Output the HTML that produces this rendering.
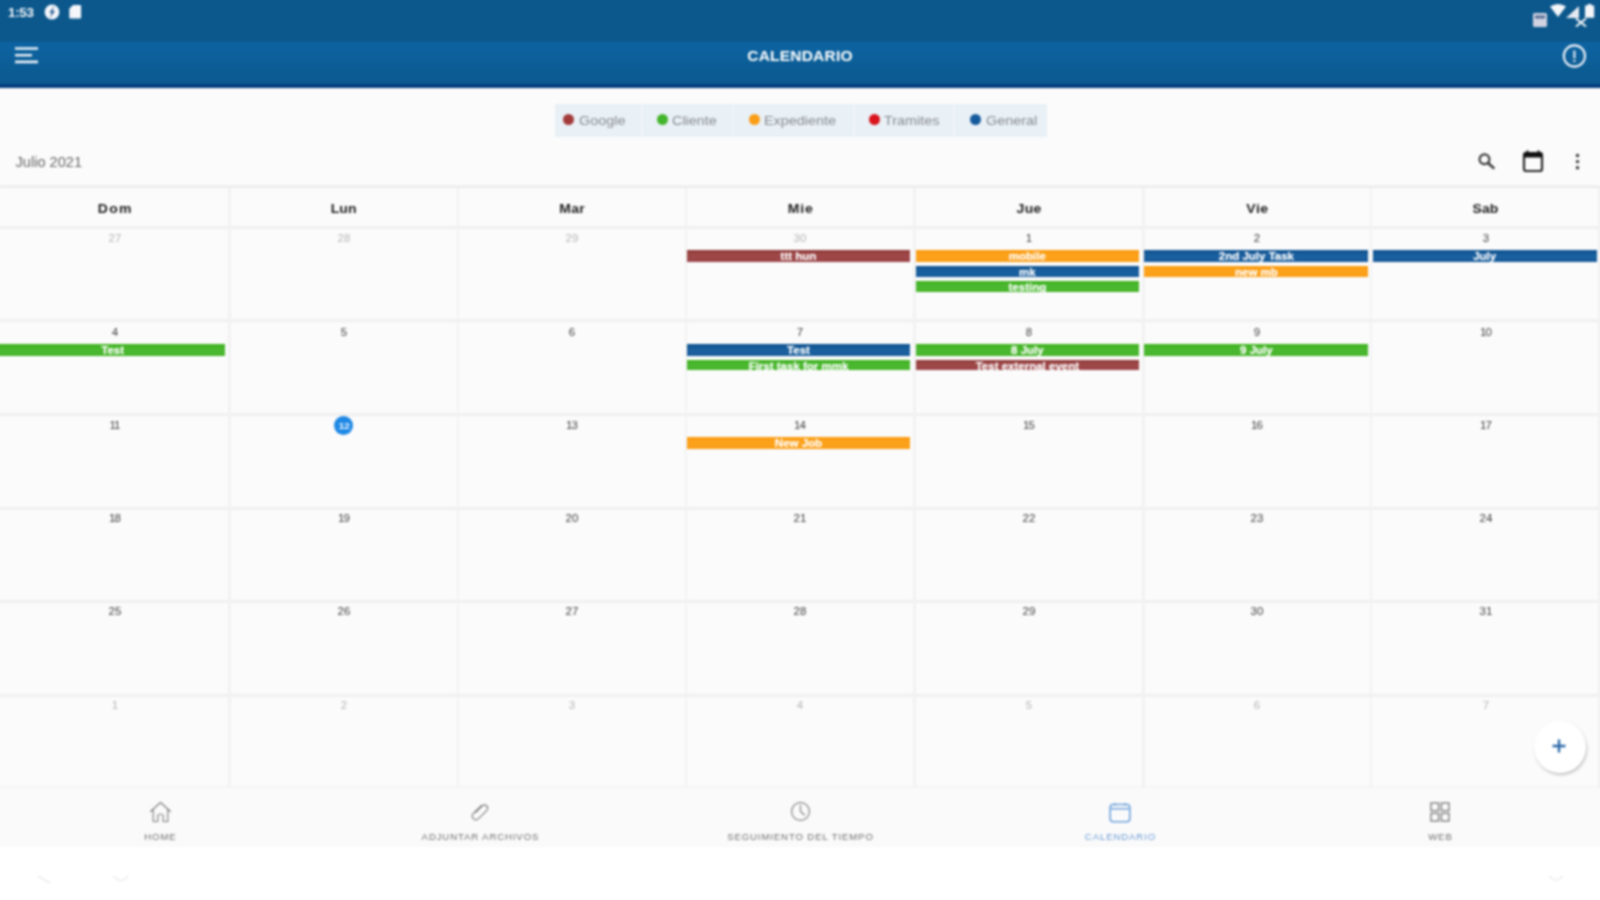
<!DOCTYPE html>
<html>
<head>
<meta charset="utf-8">
<title>Calendario</title>
<style>
*{box-sizing:border-box;margin:0;padding:0}
html,body{width:1600px;height:900px;overflow:hidden;background:#ffffff;font-family:"Liberation Sans",sans-serif;}
#app{position:absolute;left:-20px;top:-20px;width:1640px;height:940px;overflow:hidden;background:#ffffff;filter:blur(1.2px)}
#in{position:absolute;left:20px;top:20px;width:1600px;height:900px}
.abs{position:absolute}
#status{left:-20px;top:-20px;width:1640px;height:62px;background:#0c588c;}
#header{left:-20px;top:41px;width:1640px;height:47px;background:linear-gradient(to bottom,#0c588c 0,#0c588c .7px,#0c63a1 .7px,#0c619d 12px,#0c5c94 30px,#0c5a90 43px)}
#hshadow{left:-20px;top:83px;width:1640px;height:5px;background:linear-gradient(to bottom,#0c5a90 0,#0c5a90 .6px,#043f7f .6px,#043f7f 4.5px,#fdfdff 4.5px)}
#title{left:0;top:45.6px;width:1600px;height:20px;line-height:20px;text-align:center;color:#fff;font-weight:bold;font-size:15.5px;letter-spacing:.2px}
#main{left:-20px;top:87px;width:1640px;height:760.3px;background:#fbfbfb;}
#legend{left:554.5px;top:103.6px;width:492px;height:33.4px;background:#e9f0f6;}
.lg{position:absolute;top:110px;height:20px;line-height:20px;font-size:14.4px;color:#868a8f;white-space:nowrap;transform:scaleY(.92);transform-origin:0 55%}
.dot{position:absolute;top:114px;width:11px;height:11px;border-radius:50%}
#month{left:15.5px;top:152px;font-size:14.6px;line-height:20px;color:#666;white-space:nowrap}
.hl{position:absolute;left:-20px;width:1640px;height:3px;background:#f0f0f0}
.vl{position:absolute;top:187.5px;width:2.6px;height:600px;background:#f2f2f2}
.dh{position:absolute;top:199px;height:20px;line-height:20px;text-align:center;font-weight:bold;font-size:14px;color:#1c1c1c;transform:scaleY(.86);transform-origin:50% 50%}
.dn{position:absolute;height:14px;line-height:14px;text-align:center;font-size:10.2px;color:#3c3c3c;transform:scaleX(1.13)}
.dn.o{color:#b5b5b5}
.ev{position:absolute;height:11.3px;line-height:13.2px;overflow:visible;text-align:center;color:#fff;font-weight:bold;font-size:11.5px;white-space:nowrap}
.c-g{background:linear-gradient(#8f3a3a,#9e4848 40%,#9c4549)}.c-c{background:linear-gradient(#3fb31e,#4cb832 50%,#46b62b)}.c-e{background:linear-gradient(#fb9c10,#fca21c 50%,#fb9e17)}.c-t{background:#d9141c}.c-n{background:linear-gradient(#0e528f,#1c619f 50%,#175b9b)}
#nav{left:-20px;top:788px;width:1640px;height:59.3px;background:#fafafa}
.nl{position:absolute;top:830.5px;width:320px;height:12px;line-height:12px;text-align:center;font-size:9.6px;letter-spacing:.88px;padding-left:.9px;color:#707070;white-space:nowrap}
#today{left:333.5px;top:415.5px;width:19.5px;height:19.5px;border-radius:50%;background:#1e88e5}
#fab{left:1534px;top:721px;width:52px;height:52px;border-radius:50%;background:#fff;box-shadow:1px 2px 3px rgba(0,0,0,.22)}
svg{position:absolute;overflow:visible}
.dn,.dh,.lg,.nl,#month,#title{filter:blur(.55px)}
.ev{text-shadow:0 0 1px rgba(255,255,255,.55)}
</style>
</head>
<body>
<div id="app"><div id="in">
<div id="main" class="abs"></div>
<div id="status" class="abs"></div>
<div id="header" class="abs"></div>
<div id="hshadow" class="abs"></div>
<div id="title" class="abs">CALENDARIO</div>
<div class="abs" style="left:8px;top:4.6px;font-size:13.4px;line-height:16px;color:#f4f7fb;font-weight:bold;letter-spacing:-.3px">1:53</div>
<svg style="left:44px;top:3.6px" width="16" height="16" viewBox="0 0 16 16"><circle cx="8" cy="8" r="7.4" fill="#f4f6fa"/><path d="M10.3 2 L5.3 8.8 L7.7 8.8 L5.9 14 L11 6.9 L8.6 6.9 Z" fill="#2a5d90"/></svg>
<svg style="left:69px;top:4.8px" width="12.4" height="13.6" viewBox="0 0 13 15"><path d="M4 0 H11.5 Q13 0 13 1.5 V13.5 Q13 15 11.5 15 H1.5 Q0 15 0 13.5 V4 Z" fill="#f4f6fa"/></svg>
<svg style="left:1533px;top:13px" width="14" height="14" viewBox="0 0 14 14"><rect x="0" y="0" width="14" height="14" rx="1.5" fill="#cfd3e2"/><rect x="2" y="2.5" width="10" height="3" fill="#5a6f95"/></svg>
<svg style="left:1550px;top:4px" width="16" height="13" viewBox="0 0 16 13"><path d="M0 2.5 Q8 -2.5 16 2.5 L8 13 Z" fill="#f4f6fa"/></svg>
<svg style="left:1566px;top:6px" width="13" height="12" viewBox="0 0 13 12"><path d="M13 0 V12 H0 Z" fill="#e6eaf2"/></svg>
<svg style="left:1575px;top:18px" width="12" height="9" viewBox="0 0 12 9"><path d="M1 0.5 L11 8.5 M11 0.5 L1 8.5" stroke="#f4f6fa" stroke-width="2" fill="none"/></svg>
<svg style="left:1585.3px;top:4px" width="9.2" height="13.8" viewBox="0 0 10 15"><path d="M3 0 H7 V1.6 H10 V15 H0 V1.6 H3 Z" fill="#f4f6fa"/></svg>
<svg style="left:15px;top:46.4px" width="24" height="19" viewBox="0 0 24 19"><rect x="0" y="1.3" width="23" height="2.4" fill="#f0f4fa"/><rect x="0" y="8" width="17" height="2.4" fill="#f0f4fa"/><rect x="0" y="14.6" width="23" height="2.6" fill="#f0f4fa"/></svg>
<svg style="left:1562px;top:44px" width="24" height="24" viewBox="0 0 24 24"><circle cx="12.4" cy="12" r="10.6" fill="none" stroke="#eef2f8" stroke-width="2.1"/><rect x="11.4" y="6.5" width="2" height="8" fill="#eef2f8"/><rect x="11.4" y="16" width="2" height="2" fill="#eef2f8"/></svg>
<div id="legend" class="abs"></div>
<div class="dot" style="left:563.4px;background:#a33a3a"></div><div class="lg" style="left:579px">Google</div>
<div class="dot" style="left:656.5px;background:#43b52c"></div><div class="lg" style="left:672px">Cliente</div>
<div class="dot" style="left:748.5px;background:#fb9e17"></div><div class="lg" style="left:764px">Expediente</div>
<div class="dot" style="left:868.5px;background:#d9141c"></div><div class="lg" style="left:884px">Tramites</div>
<div class="dot" style="left:970px;background:#155a9c"></div><div class="lg" style="left:986px">General</div>
<div class="abs" style="left:641.4px;top:103.6px;width:2px;height:33.4px;background:#eff4f9"></div>
<div class="abs" style="left:732.4px;top:103.6px;width:2px;height:33.4px;background:#eff4f9"></div>
<div class="abs" style="left:852.6px;top:103.6px;width:2px;height:33.4px;background:#eff4f9"></div>
<div class="abs" style="left:953.4px;top:103.6px;width:2px;height:33.4px;background:#eff4f9"></div>
<div id="month" class="abs">Julio 2021</div>
<svg style="left:1478px;top:153px" width="18" height="17" viewBox="0 0 18 17"><circle cx="6.5" cy="6.3" r="4.9" fill="none" stroke="#3a3a3a" stroke-width="2.2"/><path d="M10 10 L16.3 15.6" stroke="#3a3a3a" stroke-width="2.6" fill="none"/></svg>
<svg style="left:1522px;top:150px" width="22" height="22" viewBox="0 0 22 22"><rect x="2" y="3" width="18" height="18" rx="2" fill="none" stroke="#262626" stroke-width="2.2"/><rect x="2" y="2.5" width="18" height="5" fill="#111"/><rect x="4.5" y="0.5" width="2" height="4" fill="#111"/><rect x="15.5" y="0.5" width="2" height="4" fill="#111"/></svg>
<svg style="left:1575px;top:153px" width="5" height="17" viewBox="0 0 5 17"><circle cx="2.5" cy="2.5" r="1.7" fill="#333"/><circle cx="2.5" cy="8.6" r="1.7" fill="#333"/><circle cx="2.5" cy="14.7" r="1.7" fill="#333"/></svg>
<div class="hl" style="top:186.3px;height:2px;background:#ececec"></div>
<div class="abs" style="left:0;top:183px;width:1600px;height:4px;background:linear-gradient(to bottom,rgba(0,0,0,0),rgba(0,0,0,.025))"></div>
<div class="hl" style="top:225.8px"></div>
<div class="hl" style="top:319.0px"></div>
<div class="hl" style="top:412.7px"></div>
<div class="hl" style="top:506.5px"></div>
<div class="hl" style="top:600.4px"></div>
<div class="hl" style="top:694.0px"></div>
<div class="hl" style="top:785.7px;background:#f4f4f4"></div>
<div class="vl" style="left:228.0px"></div>
<div class="vl" style="left:456.6px"></div>
<div class="vl" style="left:684.7px"></div>
<div class="vl" style="left:913.2px"></div>
<div class="vl" style="left:1142.1px"></div>
<div class="vl" style="left:1369.7px"></div>
<div class="vl" style="left:1598.3px"></div>
<div class="dh" style="left:75.3px;width:80px;letter-spacing:1.3px">Dom</div>
<div class="dh" style="left:303.7px;width:80px;letter-spacing:0.1px">Lun</div>
<div class="dh" style="left:532.2px;width:80px;letter-spacing:0.4px">Mar</div>
<div class="dh" style="left:760.7px;width:80px;letter-spacing:0.9px">Mie</div>
<div class="dh" style="left:989.1px;width:80px;letter-spacing:0.3px">Jue</div>
<div class="dh" style="left:1217.5px;width:80px;letter-spacing:0.5px">Vie</div>
<div class="dh" style="left:1445.5px;width:80px;letter-spacing:0.1px">Sab</div>
<div id="today" class="abs"></div>
<div class="dn o" style="left:74.7px;width:80px;top:232.3px">27</div>
<div class="dn o" style="left:303.6px;width:80px;top:232.3px">28</div>
<div class="dn o" style="left:532.0px;width:80px;top:232.3px">29</div>
<div class="dn o" style="left:760.2px;width:80px;top:232.3px">30</div>
<div class="dn" style="left:989.0px;width:80px;top:232.3px">1</div>
<div class="dn" style="left:1217.2px;width:80px;top:232.3px">2</div>
<div class="dn" style="left:1445.5px;width:80px;top:232.3px">3</div>
<div class="dn" style="left:74.7px;width:80px;top:325.6px">4</div>
<div class="dn" style="left:303.6px;width:80px;top:325.6px">5</div>
<div class="dn" style="left:532.0px;width:80px;top:325.6px">6</div>
<div class="dn" style="left:760.2px;width:80px;top:325.6px">7</div>
<div class="dn" style="left:989.0px;width:80px;top:325.6px">8</div>
<div class="dn" style="left:1217.2px;width:80px;top:325.6px">9</div>
<div class="dn" style="left:1445.5px;width:80px;top:325.6px;letter-spacing:-.9px;padding-right:.9px">10</div>
<div class="dn" style="left:74.7px;width:80px;top:418.9px;letter-spacing:-.9px;padding-right:.9px">11</div>
<div class="dn" style="left:303.6px;width:80px;top:418.9px;color:#e4f0fc;font-size:9.4px;font-weight:bold;letter-spacing:-.3px">12</div>
<div class="dn" style="left:532.0px;width:80px;top:418.9px;letter-spacing:-.9px;padding-right:.9px">13</div>
<div class="dn" style="left:760.2px;width:80px;top:418.9px;letter-spacing:-.9px;padding-right:.9px">14</div>
<div class="dn" style="left:989.0px;width:80px;top:418.9px;letter-spacing:-.9px;padding-right:.9px">15</div>
<div class="dn" style="left:1217.2px;width:80px;top:418.9px;letter-spacing:-.9px;padding-right:.9px">16</div>
<div class="dn" style="left:1445.5px;width:80px;top:418.9px;letter-spacing:-.9px;padding-right:.9px">17</div>
<div class="dn" style="left:74.7px;width:80px;top:512.1px;letter-spacing:-.9px;padding-right:.9px">18</div>
<div class="dn" style="left:303.6px;width:80px;top:512.1px;letter-spacing:-.9px;padding-right:.9px">19</div>
<div class="dn" style="left:532.0px;width:80px;top:512.1px">20</div>
<div class="dn" style="left:760.2px;width:80px;top:512.1px">21</div>
<div class="dn" style="left:989.0px;width:80px;top:512.1px">22</div>
<div class="dn" style="left:1217.2px;width:80px;top:512.1px">23</div>
<div class="dn" style="left:1445.5px;width:80px;top:512.1px">24</div>
<div class="dn" style="left:74.7px;width:80px;top:605.4px">25</div>
<div class="dn" style="left:303.6px;width:80px;top:605.4px">26</div>
<div class="dn" style="left:532.0px;width:80px;top:605.4px">27</div>
<div class="dn" style="left:760.2px;width:80px;top:605.4px">28</div>
<div class="dn" style="left:989.0px;width:80px;top:605.4px">29</div>
<div class="dn" style="left:1217.2px;width:80px;top:605.4px">30</div>
<div class="dn" style="left:1445.5px;width:80px;top:605.4px">31</div>
<div class="dn o" style="left:74.7px;width:80px;top:698.7px">1</div>
<div class="dn o" style="left:303.6px;width:80px;top:698.7px">2</div>
<div class="dn o" style="left:532.0px;width:80px;top:698.7px">3</div>
<div class="dn o" style="left:760.2px;width:80px;top:698.7px">4</div>
<div class="dn o" style="left:989.0px;width:80px;top:698.7px">5</div>
<div class="dn o" style="left:1217.2px;width:80px;top:698.7px">6</div>
<div class="dn o" style="left:1445.5px;width:80px;top:698.7px">7</div>
<div class="ev c-g" style="left:687.0px;top:250.2px;width:223.0px;height:12.0px">ttt hun</div>
<div class="ev c-e" style="left:916.2px;top:250.2px;width:222.4px;height:12.0px">mobile</div>
<div class="ev c-n" style="left:916.2px;top:265.8px;width:222.4px;height:10.8px">mk</div>
<div class="ev c-c" style="left:916.2px;top:280.6px;width:222.4px;height:11.0px">testing</div>
<div class="ev c-n" style="left:1144.4px;top:250.2px;width:224.0px;height:12.0px">2nd July Task</div>
<div class="ev c-e" style="left:1144.4px;top:265.8px;width:224.0px;height:10.8px">new mb</div>
<div class="ev c-n" style="left:1372.7px;top:250.2px;width:223.9px;height:12.0px">July</div>
<div class="ev c-c" style="left:-21.0px;top:343.9px;width:246.3px;height:12.0px;padding-left:21px">Test</div>
<div class="ev c-n" style="left:687.0px;top:343.9px;width:223.0px;height:12.0px">Test</div>
<div class="ev c-c" style="left:687.0px;top:359.5px;width:223.0px;height:10.8px">First task for mmk</div>
<div class="ev c-c" style="left:916.2px;top:343.9px;width:222.4px;height:12.0px">8 July</div>
<div class="ev c-g" style="left:916.2px;top:359.5px;width:222.4px;height:10.8px">Test external event</div>
<div class="ev c-c" style="left:1144.4px;top:343.9px;width:224.0px;height:12.0px">9 July</div>
<div class="ev c-e" style="left:687.0px;top:437.1px;width:223.0px;height:12.0px">New Job</div>
<div id="fab" class="abs"></div>
<svg style="left:1552px;top:739px" width="14" height="14" viewBox="0 0 14 14"><path d="M7 0.5 V13.5 M0.5 7 H13.5" stroke="#2b69a8" stroke-width="2.4" fill="none"/></svg>
<svg style="left:36px;top:874px" width="16" height="12" viewBox="0 0 16 12"><path d="M2 2 L14 9" stroke="#f1f1f1" stroke-width="2.2" fill="none"/></svg>
<svg style="left:112px;top:873px" width="18" height="12" viewBox="0 0 18 12"><path d="M2 3 Q9 12 16 3" stroke="#f2f2f2" stroke-width="2.2" fill="none"/></svg>
<svg style="left:1547px;top:873px" width="18" height="12" viewBox="0 0 18 12"><path d="M2 3 Q9 11 16 3" stroke="#f3f3f3" stroke-width="2.2" fill="none"/></svg>
<div id="nav" class="abs"></div>
<div class="nl" style="left:0px;color:#6f6f6f">HOME</div>
<div class="nl" style="left:320px;color:#6f6f6f">ADJUNTAR ARCHIVOS</div>
<div class="nl" style="left:640px;color:#6f6f6f">SEGUIMIENTO DEL TIEMPO</div>
<div class="nl" style="left:960px;color:#6a9bd6">CALENDARIO</div>
<div class="nl" style="left:1280px;color:#6f6f6f">WEB</div>
<svg style="left:149px;top:801px" width="23" height="22" viewBox="0 0 23 22"><path d="M1.5 10.5 L11.5 1.5 L21.5 10.5 M4.2 8.5 V20.5 H8.8 V14.5 Q11.5 11.5 14.2 14.5 V20.5 H18.8 V8.5" fill="none" stroke="#808080" stroke-width="1.15" stroke-linejoin="round" stroke-linecap="round"/></svg>
<svg style="left:470px;top:802px" width="20" height="20" viewBox="0 0 20 20"><path d="M5.5 10.5 L12 4 Q14.5 1.8 16.8 4 Q18.8 6.3 16.6 8.6 L8.6 16.6 Q5.8 19 3.3 16.6 Q1 14 3.4 11.4 L11.5 3.4" fill="none" stroke="#808080" stroke-width="1.15" stroke-linecap="round"/></svg>
<svg style="left:790px;top:801px" width="21" height="21" viewBox="0 0 21 21"><circle cx="10.5" cy="10.5" r="8.9" fill="none" stroke="#808080" stroke-width="1.15"/><path d="M10.5 4.5 V10.5 L14.5 14" fill="none" stroke="#808080" stroke-width="1.15" stroke-linecap="round"/></svg>
<svg style="left:1109px;top:802px" width="22" height="21" viewBox="0 0 22 21"><rect x="1.2" y="2.5" width="19.6" height="17.3" rx="3" fill="none" stroke="#6ea2dc" stroke-width="1.6"/><path d="M1.2 6.8 H20.8 M6 1 V3.5 M16 1 V3.5" stroke="#6ea2dc" stroke-width="1.6" fill="none"/></svg>
<svg style="left:1430px;top:802px" width="20" height="20" viewBox="0 0 20 20"><rect x="1" y="1" width="7.6" height="7.6" fill="none" stroke="#808080" stroke-width="1.4"/><rect x="11.4" y="1" width="7.6" height="7.6" fill="none" stroke="#808080" stroke-width="1.4"/><rect x="1" y="11.4" width="7.6" height="7.6" fill="none" stroke="#808080" stroke-width="1.4"/><rect x="11.4" y="11.4" width="7.6" height="7.6" fill="none" stroke="#808080" stroke-width="1.4"/></svg>
</div></div>
</body>
</html>
